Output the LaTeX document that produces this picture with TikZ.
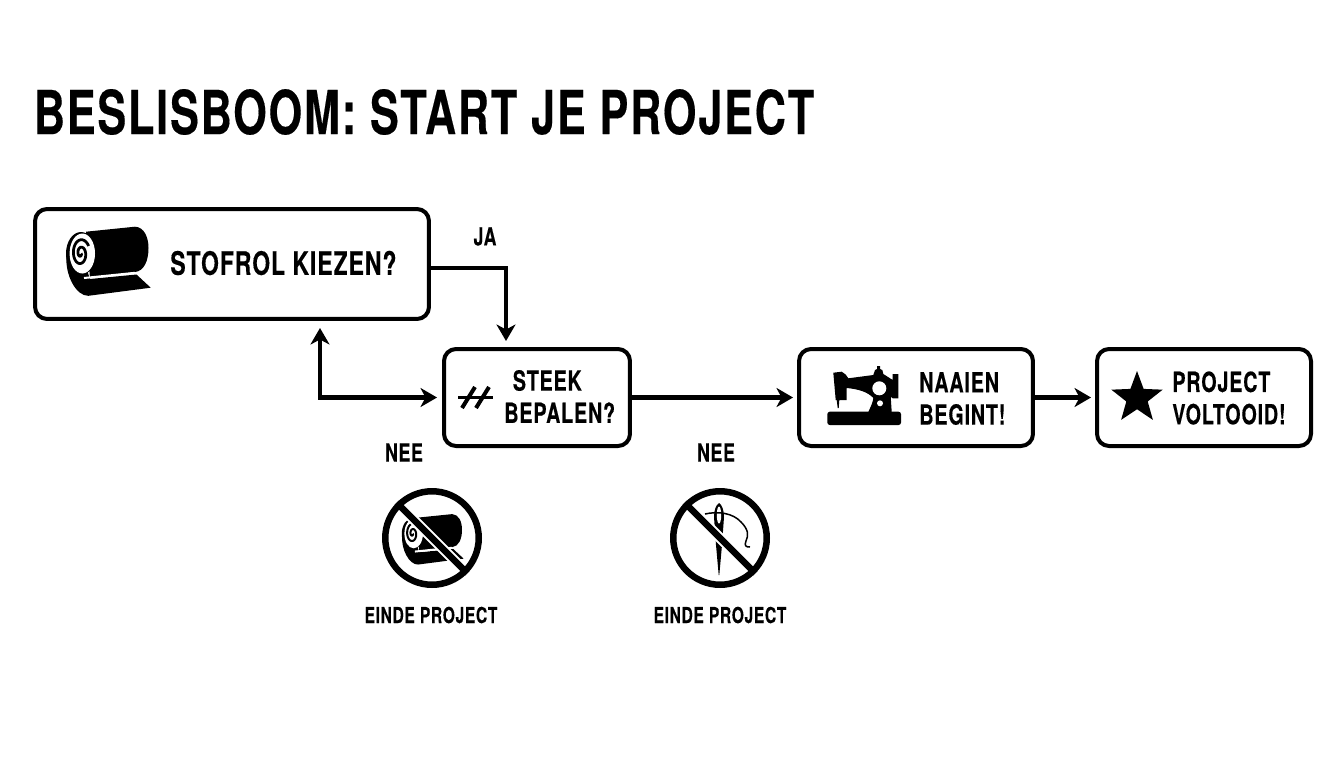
\documentclass[tikz,border=0pt]{standalone}
\usepackage{fontspec}
\setmainfont{TeX Gyre Heros}[FakeStretch=0.71,LetterSpace=3,FakeBold=0.25]
\usetikzlibrary{arrows.meta,shapes.geometric}

\tikzset{
	vak/.style={draw=black,line width=0.08cm,rounded corners=0.24cm,inner sep=0pt,minimum height=1.94cm},
	pijl/.tip={Stealth[length=0.33cm,width=0.38cm,inset=0.1cm]},
	flow/.style={line width=0.085cm,-pijl},
	verbod/.style={draw=black,circle,line width=0.13cm,minimum size=1.87cm,inner sep=0pt},
	streep/.style={line width=0.13cm},
	halo/.style={white,line width=0.21cm,shorten <=0.25cm,shorten >=0.25cm},
	tekst/.style={font=\bfseries\fontsize{15.8}{18.4}\selectfont,align=left,anchor=west,inner sep=0pt},
	klein/.style={font=\bfseries\fontsize{14.2}{16}\selectfont,inner sep=0pt},
	einde/.style={font=\bfseries\fontsize{12.5}{14}\selectfont,inner sep=0pt}
}

% stofrol in pixel coordinates, #1 = line width of the spiral
\newcommand{\stofrolicon}[1]{
	\fill (86,231.7) -- (135,226.7) .. controls (144,227) and (148.5,237) .. (148.5,248)
		.. controls (148.5,261) and (144,271) .. (135,272) -- (90,278) -- cycle;
	\fill (66.5,256) .. controls (65,275) and (76,296) .. (88.3,295.8) -- (150.7,287.7) -- (136.5,274.5) -- (90,279)
		-- (80,250) -- cycle;
	\fill (81,253.5) ellipse (15 and 21.5);
	\fill[white] (82.3,253.5) ellipse (12.7 and 20);
	\draw[line width=#1] plot[smooth,samples=60,domain=0:690] ({80.7+(0.4+\x/690*8.8)*cos(\x)},{253.5+(0.6+\x/690*14.4)*sin(\x)});
	\draw[white,line width=0.04cm] (84,278) -- (135,272.8);
}

\begin{document}
\begin{tikzpicture}[x=0.02cm,y=-0.02cm]

\useasboundingbox (0,0) rectangle (1344,768);

\node[font=\bfseries\fontsize{34.6}{40}\selectfont,anchor=west,inner sep=0pt] (titel) at (33.5,112) {BESLISBOOM: START JE PROJECT};

% boxes
\node[vak,minimum width=7.88cm,minimum height=2.2cm] (stofrol) at (232,264) {};
\node[vak,minimum width=3.72cm] (steek) at (537,397.5) {};
\node[vak,minimum width=4.68cm] (naaien) at (916,397.5) {};
\node[vak,minimum width=4.28cm] (voltooid) at (1204,397.5) {};

\node[tekst,font=\bfseries\fontsize{18.4}{20}\selectfont] (stofroltekst) at (170,263) {STOFROL KIEZEN?};
\node[tekst] (steektekst) at (504,396.5) {\hspace*{0.17cm}STEEK\\BEPALEN?};
\node[tekst] (naaientekst) at (919,398.5) {NAAIEN\\BEGINT!};
\node[tekst] (voltooidtekst) at (1172,398) {PROJECT\\VOLTOOID!};

% connectors
\draw[flow,shorten >=0.12cm] ([yshift=-0.8mm]stofrol.east) -| ([xshift=-6.2mm]steek.north);
\draw[flow,pijl-pijl,shorten <=0.14cm,shorten >=0.1cm] ([xshift=17.6mm]stofrol.south) |- (steek.west);
\draw[flow,shorten >=0.08cm] (steek.east) -- (naaien.west);
\draw[flow,shorten >=0.08cm] (naaien.east) -- (voltooid.west);

\node[klein] (ja) at (485,236.5) {JA};
\node[klein] (nee1) at (404,452.5) {NEE};
\node[klein] (nee2) at (716,452.5) {NEE};

% icons
\stofrolicon{0.055cm}

\draw[line width=0.08cm] (462,408) -- (475,387);
\draw[line width=0.08cm] (476,408) -- (489,387);
\draw[line width=0.06cm] (458,397.5) -- (493,397.5);

% sewing machine
\fill (833.3,372.7) -- (841.7,371.7) .. controls (845,373) and (847,376) .. (848.3,378.3) -- (873.3,375) -- (875,370)
	-- (877,369) -- (877,366) -- (880,366) -- (880,369) -- (882.3,370) -- (883.3,374) -- (892.7,380) -- (892.7,374) -- (898.3,374)
	-- (898.3,398.3) -- (892.7,398.3) -- (890.7,396.7) -- (891.7,412) -- (868.3,412)
	.. controls (871,406) and (873,402) .. (873.3,398) .. controls (868,392) and (858,389) .. (846.7,388)
	-- (846.7,400) -- (839.3,400) -- (838.7,408) -- (837.7,408) -- (836.7,400) -- (835.7,400) -- cycle;
\fill[rounded corners=0.05cm] (827.3,411.7) rectangle (901,425);
\fill[white] (879.3,388.3) circle (7);
\fill[white] (880,403.3) circle (3);

\node[star,fill=black,star points=5,star point ratio=2.4,minimum size=1.08cm,inner sep=0pt] (ster) at (1137,398) {};

% no entry signs
\begin{scope}[shift={(431.7,539.5)},scale=0.73,shift={(-107,-261.5)}]
	\stofrolicon{0.04cm}
\end{scope}

\fill (719,503) .. controls (722,505) and (724,510) .. (724,517) -- (722,545) -- (719.3,575) -- (718.7,575) -- (716,545) -- (714,517)
	.. controls (714,510) and (716,505) .. (719,503) -- cycle;
\fill[white] (719,515) ellipse (2.2 and 8.5);
\draw[line width=0.03cm] (705,514) .. controls (718,511) and (733,513) .. (741,522) .. controls (748,529) and (749,535) .. (746,541)
	.. controls (744,546) and (746,547) .. (750,547);

\node[verbod] (verbod1) at (432,538) {};
\node[verbod] (verbod2) at (720,538) {};
\foreach \i in {1,2}{
	\draw[halo] (verbod\i.135) -- (verbod\i.-45);
	\draw[streep] (verbod\i.135) -- (verbod\i.-45);
}

\node[einde] (einde1) at (431,615) {EINDE PROJECT};
\node[einde] (einde2) at (720,615) {EINDE PROJECT};
\end{tikzpicture}
\end{document}
